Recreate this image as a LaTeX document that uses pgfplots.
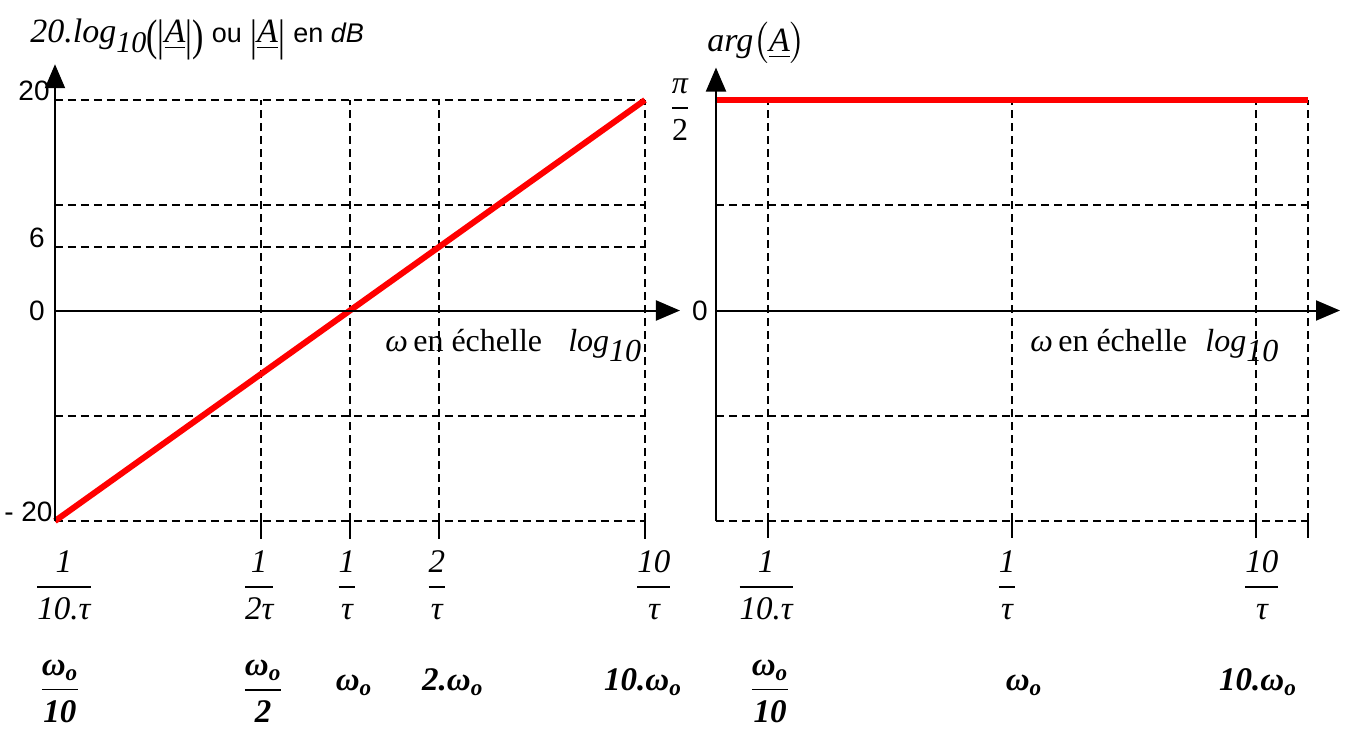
\documentclass[border=0pt]{standalone}
\usepackage{amsmath}
\usepackage{graphicx}
\usepackage{pgfplots}
\pgfplotsset{compat=1.18}
\usetikzlibrary{arrows.meta}
\usepackage{fontspec}
\setmainfont{Liberation Serif}
\setsansfont{Liberation Sans}

\newcommand\fs[1]{\fontsize{#1}{#1}\selectfont}
% italic fractions used for the angular-frequency labels
\newcommand\ifr[2]{$\dfrac{\mbox{\itshape #1}}{\mbox{\itshape #2}}$}
\newcommand\bfr[2]{$\dfrac{\mbox{\bfseries\itshape #1}}{\mbox{\bfseries\itshape #2}}$}
\newcommand\wo{ω\textsubscript{o}}
\newcommand\uA{\underline{\mbox{\itshape A}}}
% stretched text delimiters for the magnitude label
\newcommand\tall[1]{\raisebox{-4pt}{\scalebox{1}[1.3]{\upshape #1}}}

\tikzset{
  axisarrow/.style={line width=1pt, -{Triangle[width=10pt,length=12pt]}},
  stub/.style={line width=0.9pt},
  ticklab/.style={inner sep=0, font=\sffamily\fs{14}},
  fraclab/.style={inner sep=0, font=\fs{16.5}},
  boldlab/.style={inner sep=0, font=\fs{16.5}},
  loglab/.style={anchor=base west, inner sep=0, font=\fs{16}},
  griddash/.style={black, line width=0.9pt, dash pattern=on 4pt off 2.5pt},
}

\begin{document}
\begin{tikzpicture}

% ---------------- gain (dB) ----------------
\begin{axis}[
  at={(0pt,0pt)}, anchor=south west,
  xmode=log, scale only axis, clip=false,
  width=295pt, height=210.5pt,
  axis line style={draw=none},
  major tick length=0pt,
  xticklabels={}, yticklabels={},
  grid=major, major grid style={griddash},
  xmin=0.1, xmax=10, ymin=-20, ymax=20,
  xtick={0.5,1,2,10}, ytick={-20,-10,6,10,20},
]
\addplot[red, line width=3pt] coordinates {(0.1,-20) (1,0) (10,20)};

\draw[axisarrow] (axis cs:0.1,-20) -- (axis cs:0.1,23.4);
\draw[axisarrow] (axis cs:0.1,0) -- (axis cs:13.14,0);
\draw[stub] (axis cs:0.5,-20) -- (axis cs:0.5,-21.7);
\draw[stub] (axis cs:1,-20) -- (axis cs:1,-21.7);
\draw[stub] (axis cs:2,-20) -- (axis cs:2,-21.7);
\draw[stub] (axis cs:10,-20) -- (axis cs:10,-21.7);

\node[ticklab, anchor=base east, xshift=-2.5pt] at (axis cs:0.1,20) {20};
\node[ticklab, anchor=base east, xshift=-5pt] at (axis cs:0.1,6) {6};
\node[ticklab, anchor=east, xshift=-5pt] at (axis cs:0.1,0) {0};
\node[ticklab, anchor=base east, xshift=-1pt] at (axis cs:0.1,-20) {- 20};

\node[anchor=base west, inner sep=0, font=\fs{17}] at (axis cs:0.0823,25.46)
  {{\itshape 20.log}\raisebox{-0.3em}{\fs{15}\itshape 10}\tall{(}\tall{|}\uA\tall{|}\tall{)}
   {\sffamily\fs{13.5}ou} \tall{|}\uA\tall{|} {\sffamily\fs{13.5}en \textit{dB}}};

\node[loglab] at (axis cs:1.314,-3.9) {\textit{ω}\,en échelle};
\node[loglab] at (axis cs:5.48,-3.9) {\textit{log}\raisebox{-0.3em}{\textit{10}}};

\node[fraclab] at ([xshift=4.5pt, yshift=-32pt]axis cs:0.1,-20) {\ifr{1}{10.τ}};
\node[fraclab] at ([xshift=-1pt, yshift=-32pt]axis cs:0.5,-20) {\ifr{1}{2τ}};
\node[fraclab] at ([xshift=-1.5pt, yshift=-32pt]axis cs:1,-20) {\ifr{1}{τ}};
\node[fraclab] at ([xshift=-1pt, yshift=-32pt]axis cs:2,-20) {\ifr{2}{τ}};
\node[fraclab] at ([xshift=4.5pt, yshift=-32pt]axis cs:10,-20) {\ifr{10}{τ}};

\node[boldlab] at ([xshift=2.5pt, yshift=-85pt]axis cs:0.1,-20) {\bfr{\wo}{10}};
\node[boldlab] at ([xshift=1pt, yshift=-85pt]axis cs:0.5,-20) {\bfr{\wo}{2}};
\node[boldlab, anchor=base] at ([xshift=2pt, yshift=-84.5pt]axis cs:1,-20) {\textbf{\textit{\wo}}};
\node[boldlab, anchor=base] at ([xshift=7pt, yshift=-84.5pt]axis cs:2,-20) {\textbf{\textit{2.\wo}}};
\node[boldlab, anchor=base] at ([xshift=-1pt, yshift=-84.5pt]axis cs:10,-20) {\textbf{\textit{10.\wo}}};
\end{axis}

% ---------------- phase ----------------
\begin{axis}[
  at={(330.5pt,0pt)}, anchor=south west,
  xmode=log, scale only axis, clip=false,
  width=296pt, height=210.5pt,
  axis line style={draw=none},
  major tick length=0pt,
  xticklabels={}, yticklabels={},
  grid=major, major grid style={griddash},
  xmin=0.06119, xmax=16.34, ymin=-1.5708, ymax=1.5708,
  xtick={0.1,1,10,16.34}, ytick={-1.5708,-0.7854,0.7854},
]
\addplot[red, line width=3pt] coordinates {(0.06119,1.5708) (16.34,1.5708)};

\draw[axisarrow] (axis cs:0.06119,-1.5708) -- (axis cs:0.06119,1.813);
\draw[axisarrow] (axis cs:0.06119,0) -- (axis cs:22.1,0);
\draw[stub] (axis cs:0.1,-1.5708) -- (axis cs:0.1,-1.70);
\draw[stub] (axis cs:1,-1.5708) -- (axis cs:1,-1.70);
\draw[stub] (axis cs:10,-1.5708) -- (axis cs:10,-1.70);
\draw[stub] (axis cs:16.34,-1.5708) -- (axis cs:16.34,-1.70);

\node[ticklab, anchor=east, xshift=-4pt] at (axis cs:0.06119,0) {0};
\node[inner sep=0, xshift=-18pt, font=\fs{16}] at (axis cs:0.06119,1.5) {$\dfrac{\mbox{\itshape π}}{\mbox{2}}$};

\node[anchor=base west, inner sep=0, font=\fs{17}] at (axis cs:0.0562,1.933)
  {\textit{arg}$\bigl(\uA\bigr)$};

\node[loglab] at (axis cs:1.185,-0.306) {\textit{ω}\,en échelle};
\node[loglab] at (axis cs:6.18,-0.306) {\textit{log}\raisebox{-0.3em}{\textit{10}}};

\node[fraclab] at ([xshift=-1pt, yshift=-32pt]axis cs:0.1,-1.5708) {\ifr{1}{10.τ}};
\node[fraclab] at ([xshift=-2.5pt, yshift=-32pt]axis cs:1,-1.5708) {\ifr{1}{τ}};
\node[fraclab] at ([xshift=3pt, yshift=-32pt]axis cs:10,-1.5708) {\ifr{10}{τ}};

\node[boldlab] at ([xshift=1pt, yshift=-85pt]axis cs:0.1,-1.5708) {\bfr{\wo}{10}};
\node[boldlab, anchor=base] at ([xshift=6pt, yshift=-84.5pt]axis cs:1,-1.5708) {\textbf{\textit{\wo}}};
\node[boldlab, anchor=base] at ([xshift=1pt, yshift=-84.5pt]axis cs:10,-1.5708) {\textbf{\textit{10.\wo}}};
\end{axis}

\path[use as bounding box] (-27.5pt,-104pt) rectangle (647.5pt,260.5pt);
\end{tikzpicture}
\end{document}
